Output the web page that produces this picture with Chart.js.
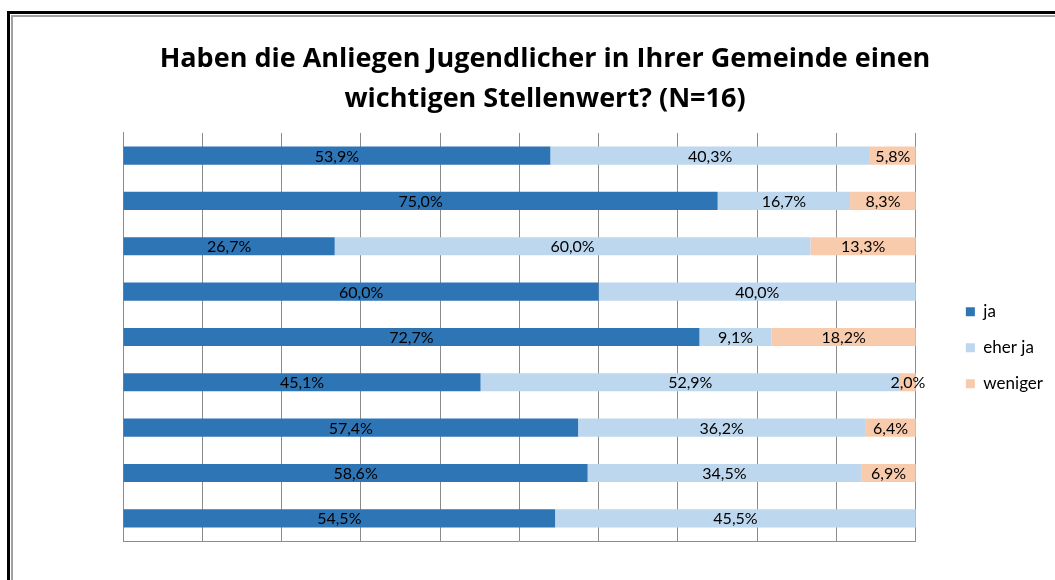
<!DOCTYPE html>
<html>
<head>
<meta charset="utf-8">
<script src="https://cdn.jsdelivr.net/npm/chart.js@4"></script>
<style>
  html, body { margin: 0; padding: 0; overflow: hidden; background: #fff; }
  #frame {
    position: absolute; left: 7px; top: 11px; width: 1100px; height: 620px;
    border: 3px solid #000;
  }
  #frame .inner {
    position: absolute; left: 1px; top: 1px; right: 0; bottom: 0;
    border: 2px solid #a0a0a0;
  }
  #wrap { position: absolute; left: 0; top: 0; width: 1055px; height: 580px; }
</style>
</head>
<body>
<div id="frame"><div class="inner"></div></div>
<div id="wrap"><canvas id="chart" width="1055" height="580"></canvas></div>
<script>
const categories = ['', '', '', '', '', '', '', '', ''];
const ja =      [53.9, 75.0, 26.7, 60.0, 72.7, 45.1, 57.4, 58.6, 54.5];
const eherJa =  [40.3, 16.7, 60.0, 40.0,  9.1, 52.9, 36.2, 34.5, 45.5];
const weniger = [ 5.8,  8.3, 13.3,  0.0, 18.2,  2.0,  6.4,  6.9,  0.0];
const seriesNames = ['ja', 'eher ja', 'weniger'];
const seriesColors = ['#2e75b6', '#bdd7ee', '#f8cbad'];

const FONT = 'Lato, "Liberation Sans", sans-serif';
const TITLE_FONT = '"Open Sans", "Liberation Sans", sans-serif';

// labels in the middle of each segment, like the excel data labels
const segmentLabels = {
  id: 'segmentLabels',
  afterDatasetsDraw(chart) {
    const ctx = chart.ctx;
    ctx.save();
    ctx.font = '16px ' + FONT;
    ctx.fillStyle = '#000';
    ctx.textAlign = 'center';
    ctx.textBaseline = 'middle';
    chart.data.datasets.forEach((ds, i) => {
      chart.getDatasetMeta(i).data.forEach((bar, j) => {
        const v = ds.data[j];
        if (!v) return;
        const txt = v.toFixed(1).replace('.', ',') + '%';
        ctx.fillText(txt, (bar.x + bar.base) / 2, bar.y + 1);
      });
    });
    ctx.restore();
  }
};

new Chart(document.getElementById('chart'), {
  type: 'bar',
  data: {
    labels: categories,
    datasets: [
      { label: seriesNames[0], data: ja, backgroundColor: seriesColors[0] },
      { label: seriesNames[1], data: eherJa, backgroundColor: seriesColors[1] },
      { label: seriesNames[2], data: weniger, backgroundColor: seriesColors[2] }
    ]
  },
  options: {
    indexAxis: 'y',
    responsive: false,
    animation: false,
    barPercentage: 0.4,
    categoryPercentage: 1,
    layout: { padding: { left: 37, right: 2, top: 39, bottom: 39 } },
    scales: {
      x: {
        stacked: true, min: 0, max: 100,
        ticks: { display: false, stepSize: 10 },
        grid: { color: '#8c8c8c', lineWidth: 1, drawTicks: false, tickLength: 0 },
        border: { color: '#8c8c8c' }
      },
      y: {
        stacked: true,
        ticks: { display: false },
        grid: { display: false, drawTicks: false },
        border: { color: '#8c8c8c' },
        afterFit: s => { s.width = 86; }
      },
      y2: {
        position: 'right',
        ticks: { display: false },
        grid: { display: false, drawTicks: false },
        border: { display: false },
        afterFit: s => { s.width = 31; }
      }
    },
    plugins: {
      title: {
        display: true,
        text: ['Haben die Anliegen Jugendlicher in Ihrer Gemeinde einen', 'wichtigen Stellenwert? (N=16)'],
        color: '#000',
        font: { family: TITLE_FONT, size: 27, weight: 'bold', lineHeight: 1.48 },
        padding: { top: 0, bottom: 14 }
      },
      legend: {
        position: 'right',
        title: { display: true, text: ' ', padding: { top: 101, bottom: 0 } },
        labels: {
          boxWidth: 9, boxHeight: 9, padding: 19,
          color: '#000',
          font: { family: FONT, size: 17 }
        }
      },
      tooltip: { enabled: false }
    }
  },
  plugins: [segmentLabels]
});
</script>
</body>
</html>
